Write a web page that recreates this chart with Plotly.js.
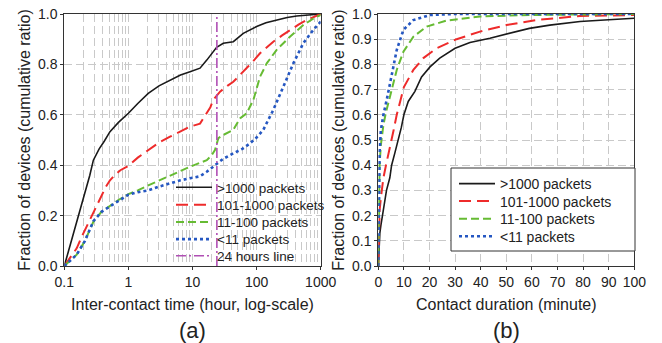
<!DOCTYPE html>
<html><head><meta charset="utf-8">
<script src="https://cdn.plot.ly/plotly-3.0.1.min.js"></script>
<style>html,body{margin:0;padding:0;background:#fff}#c{width:662px;height:343px}</style>
</head><body><div id="c"></div>
<script>
// (a) inter-contact time (hour) CDFs
const interX_gt1000 = [0.1,0.15,0.2,0.25,0.284,0.35,0.42,0.516,0.7,1,1.4,2.04,3,4.46,6.5,9.15,13.1,16.7,20,23.8,30.2,43.3,62,100,140,204,300,422,700,1000];
const interY_gt1000 = [0,0.155,0.27,0.36,0.42,0.465,0.495,0.533,0.57,0.606,0.645,0.685,0.715,0.738,0.758,0.771,0.785,0.817,0.845,0.868,0.884,0.89,0.923,0.95,0.965,0.976,0.986,0.992,0.998,1.0];
const interX_101 = [0.1,0.156,0.19,0.23,0.267,0.3,0.37,0.447,0.516,0.62,0.75,1,1.4,2.04,3,4.46,6.5,9.15,13.1,16.7,19,21.1,24,26.9,35,43.3,55,70,90,113,140,182,250,331,450,602,800,1000];
const interY_101 = [0,0.07,0.12,0.165,0.20,0.225,0.275,0.315,0.34,0.362,0.38,0.397,0.43,0.46,0.49,0.513,0.535,0.553,0.565,0.606,0.63,0.659,0.675,0.692,0.715,0.731,0.758,0.784,0.815,0.844,0.865,0.89,0.915,0.937,0.958,0.976,0.99,1.0];
const interX_11 = [0.1,0.156,0.21,0.284,0.38,0.516,0.7,1,1.4,2.04,3,4.46,6.5,9.15,13.1,16.7,20,22.4,25.3,30.2,43.3,55,70,89,113,144,204,331,535,800,1000];
const interY_11 = [0,0.045,0.10,0.175,0.215,0.24,0.262,0.285,0.30,0.32,0.34,0.36,0.377,0.394,0.408,0.42,0.44,0.46,0.507,0.52,0.54,0.586,0.606,0.659,0.751,0.804,0.857,0.91,0.956,0.985,0.996];
const interX_lt11 = [0.1,0.156,0.21,0.284,0.38,0.516,0.7,1,1.4,2.04,3,4.46,6.5,9.15,13.1,16.7,23.8,30,43.3,60,79,100,127,182,261,374,535,767,1000];
const interY_lt11 = [0,0.045,0.10,0.178,0.215,0.237,0.26,0.283,0.293,0.30,0.315,0.328,0.34,0.348,0.356,0.374,0.407,0.425,0.447,0.465,0.487,0.51,0.54,0.619,0.711,0.804,0.884,0.937,0.97];
const line24X = [24,24];
const line24Y = [0,1];

// (b) contact duration (minute) CDFs
const durX_gt1000 = [0,0.3,0.6,1,2,3.2,4.5,5.2,6.5,7.8,9,10,11.7,14.3,16.9,20.2,24,30,35.8,43.6,51.4,59,67,78.8,90,100];
const durY_gt1000 = [0,0.08,0.13,0.16,0.22,0.30,0.35,0.40,0.45,0.50,0.55,0.60,0.653,0.693,0.75,0.79,0.825,0.864,0.887,0.904,0.923,0.943,0.956,0.97,0.977,0.983];
const durX_101 = [0,0.3,0.5,1,2,3,4.6,6,7.2,9,10,13.7,17.6,22.8,30.6,39.7,50,61.8,78.8,100];
const durY_101 = [0,0.15,0.22,0.27,0.35,0.40,0.47,0.54,0.60,0.67,0.71,0.778,0.825,0.864,0.90,0.93,0.956,0.976,0.992,0.996];
const durX_11 = [0,0.2,0.5,1,2,3,4.5,7.2,9.8,13.7,18.9,26.7,39.7,59,100];
const durY_11 = [0,0.25,0.40,0.48,0.56,0.61,0.67,0.778,0.85,0.91,0.95,0.974,0.99,0.996,1.0];
const durX_lt11 = [0,0.2,0.5,1,2,3.5,4.6,7.2,9.8,13.7,20.2,30,100];
const durY_lt11 = [0,0.3,0.45,0.54,0.60,0.67,0.726,0.857,0.937,0.976,0.996,1.0,1.0];

const seriesNames = ['>1000 packets','101-1000 packets','11-100 packets','<11 packets'];
const lineName24 = '24 hours line';
const xTickVals = [0.1,1,10,100,1000];
const xTickText = ['0.1','1','10','100','1000'];

const C = {k:'#1a1a1a', r:'#ee2b2b', g:'#66bb33', b:'#2557c2', p:'#b04fb4', grid:'#c9c9c9'};
const styles = [
  {color:C.k, width:1.6, dash:'solid'},
  {color:C.r, width:2, dash:'12px,6px'},
  {color:C.g, width:2, dash:'8px,4px'},
  {color:C.b, width:2.6, dash:'dot'}
];
const F = 'Liberation Sans, Arial, sans-serif';
const interXs=[interX_gt1000,interX_101,interX_11,interX_lt11], interYs=[interY_gt1000,interY_101,interY_11,interY_lt11];
const durXs=[durX_gt1000,durX_101,durX_11,durX_lt11], durYs=[durY_gt1000,durY_101,durY_11,durY_lt11];
const legName = i => i===0 ? 'legend' : 'legend'+(i+1);
const traces=[];
for(let i=0;i<4;i++) traces.push({x:interXs[i],y:interYs[i],name:seriesNames[i],mode:'lines',line:Object.assign({},styles[i]),xaxis:'x',yaxis:'y',legend:legName(i),showlegend:true});
traces.push({x:line24X,y:line24Y,name:lineName24,mode:'lines',line:{color:C.p,width:1.6,dash:'10px,3px,2px,3px'},xaxis:'x',yaxis:'y',legend:legName(4),showlegend:true});
for(let i=0;i<4;i++) traces.push({x:durXs[i],y:durYs[i],name:seriesNames[i],mode:'lines',line:Object.assign({},styles[i]),xaxis:'x2',yaxis:'y2',legend:legName(5+i),showlegend:true});

const yDom=[77/343, 329/343];
const axCommon = {showline:true, linecolor:'#333', linewidth:1, mirror:true, ticks:'outside', ticklen:3, tickcolor:'#333',
  tickfont:{family:F,size:14,color:'#222'}, gridcolor:C.grid, griddash:'8px,4px', gridwidth:1, zeroline:false, fixedrange:true};
const layout = {
  width:662, height:343, margin:{l:0,r:0,t:0,b:0}, paper_bgcolor:'#fff', plot_bgcolor:'#fff', font:{family:F,color:'#222'},
  showlegend:true,
  xaxis: Object.assign({}, axCommon, {domain:[64.3/662,320.7/662], type:'log', range:[-1,3], tickvals:xTickVals, ticktext:xTickText,
    minor:{dtick:'D1', showgrid:true, gridcolor:C.grid, griddash:'8px,4px', ticks:''},
    title:{text:'Inter-contact time (hour, log-scale)', font:{family:F,size:16,color:'#222'}, standoff:10}, anchor:'y'}),
  yaxis: Object.assign({}, axCommon, {domain:yDom, range:[0,1], dtick:0.2, tickformat:'.1f',
    title:{text:'Fraction of devices (cumulative ratio)', font:{family:F,size:16,color:'#222'}, standoff:3}, anchor:'x'}),
  xaxis2: Object.assign({}, axCommon, {domain:[378.3/662,634.3/662], range:[0,100], dtick:10,
    title:{text:'Contact duration (minute)', font:{family:F,size:16,color:'#222'}, standoff:10}, anchor:'y2'}),
  yaxis2: Object.assign({}, axCommon, {domain:yDom, range:[0,1], dtick:0.1, tickformat:'.1f',
    title:{text:'Fraction of devices (cumulative ratio)', font:{family:F,size:16,color:'#222'}, standoff:3}, anchor:'x2'}),
  shapes:[
    {type:'rect', xref:'paper', yref:'paper', x0:451/662, x1:635/662, y0:(343-251)/343, y1:(343-168)/343,
     line:{color:'#333',width:1}, fillcolor:'#fff', layer:'above'}
  ],
  annotations:[
    {text:'(a)', x:(64.3+320.7)/2/662, y:(343-330)/343, xref:'paper', yref:'paper', showarrow:false, font:{family:F,size:22,color:'#222'}, xanchor:'center', yanchor:'middle'},
    {text:'(b)', x:(378.3+634.3)/2/662, y:(343-330)/343, xref:'paper', yref:'paper', showarrow:false, font:{family:F,size:22,color:'#222'}, xanchor:'center', yanchor:'middle'}
  ]
};
// one legend per row so that row spacing matches the reference
const leftRows=[187.5,205,222.3,239.3,256], rightRows=[184,201.5,219.2,236.7];
leftRows.forEach((py,i)=>{ layout[legName(i)] = {visible:true, x:171/662, y:(343-py)/343, xanchor:'left', yanchor:'middle', bgcolor:'rgba(0,0,0,0)', borderwidth:0, font:{family:F,size:13.5,color:'#222'}, itemwidth:36}; });
rightRows.forEach((py,i)=>{ layout[legName(5+i)] = {visible:true, x:454/662, y:(343-py)/343, xanchor:'left', yanchor:'middle', bgcolor:'rgba(0,0,0,0)', borderwidth:0, font:{family:F,size:14,color:'#222'}, itemwidth:36}; });
Plotly.newPlot('c', traces, layout, {staticPlot:true, displayModeBar:false});
</script></body></html>
